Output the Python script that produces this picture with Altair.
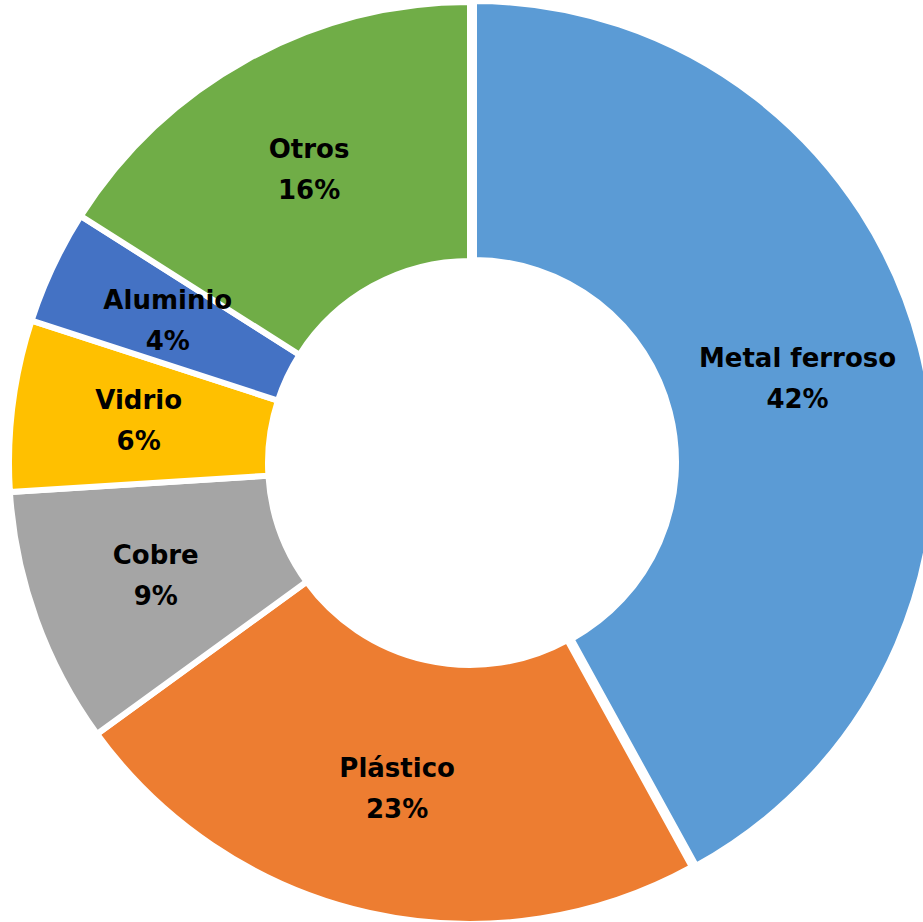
import altair as alt
import pandas as pd
import math

categories = ["Metal ferroso", "Plástico", "Cobre", "Vidrio", "Aluminio", "Otros"]
values = [42, 23, 9, 6, 4, 16]
pct_labels = ["42%", "23%", "9%", "6%", "4%", "16%"]
colors = ["#5B9BD5", "#ED7D31", "#A5A5A5", "#FFC000", "#4472C4", "#70AD47"]

df = pd.DataFrame({
    "cat": categories,
    "value": values,
    "pct": pct_labels,
    "idx": list(range(len(categories))),
})

CX, CY = 470, 463
theta_scale = alt.Scale(domain=[0, 100], range=[0, 2 * math.pi])

base = alt.Chart(df).transform_window(
    cum="sum(value)", sort=[alt.SortField("idx", order="ascending")], frame=[None, 0]
).transform_calculate(
    start="datum.cum - datum.value",
    mid="datum.cum - datum.value / 2",
    px=f"datum.cat == 'Metal ferroso' ? {CX + 4} : {CX}",
    py=f"datum.cat == 'Metal ferroso' ? {CY - 1} : {CY}",
).encode(
    x=alt.X("px:Q", scale=None, axis=None),
    y=alt.Y("py:Q", scale=None, axis=None),
)

arcs = base.mark_arc(outerRadius=461, innerRadius=202, stroke="white", strokeWidth=6).encode(
    theta=alt.Theta("start:Q", scale=theta_scale),
    theta2="cum:Q",
    color=alt.Color("cat:N", scale=alt.Scale(domain=categories, range=colors), legend=None),
)

names = base.mark_text(radius=334, dy=-20, font="DejaVu Sans", fontWeight="bold",
                       fontSize=26, color="black", align="center", baseline="middle").encode(
    theta=alt.Theta("mid:Q", scale=theta_scale),
    text="cat:N",
)
pcts = base.mark_text(radius=334, dy=21, font="DejaVu Sans", fontWeight="bold",
                      fontSize=26, color="black", align="center", baseline="middle").encode(
    theta=alt.Theta("mid:Q", scale=theta_scale),
    text="pct:N",
)

chart = alt.layer(arcs, names, pcts).properties(
    width=923, height=922,
    autosize=alt.AutoSizeParams(type="none"),
    padding=0,
).configure_view(stroke=None)

chart.save("out.html", embed_options={"renderer": "svg", "actions": False})
